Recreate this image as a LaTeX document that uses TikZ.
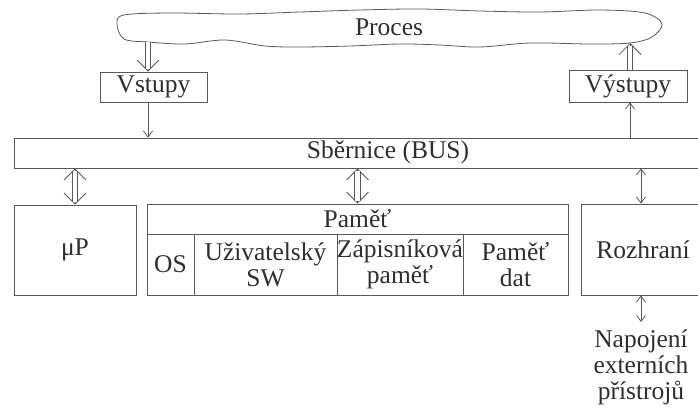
\documentclass[tikz,border=0pt]{standalone}
\usepackage{fontspec}
\setmainfont{Liberation Serif}
\usetikzlibrary{arrows.meta}
\definecolor{lc}{gray}{0.35}
\definecolor{tc}{gray}{0.18}
\begin{document}
\begin{tikzpicture}[x=1pt,y=-1pt,
  every node/.style={font=\fontsize{25.5pt}{26pt}\selectfont, text=tc},
  box/.style={draw=lc, line width=0.8pt, inner sep=0pt},
  lbl/.style={inner sep=0pt, align=center},
  conn/.style={draw=lc, line width=0.8pt},
  stip/.tip={Straight Barb[length=6pt,width=9pt,line width=0.8pt]},
  dtip/.tip={Straight Barb[length=11pt,width=22pt,line width=0.8pt]},
  sarrow/.style={conn, -stip},
  sboth/.style={conn, stip-stip},
  % a double arrow = open head on a single line, covered by a double shaft
  dhead/.style={conn, -dtip},
  dheads/.style={conn, dtip-dtip},
  dshaft/.style={conn, double=white, double distance=4.5pt},
  dend/.style={shorten >=2.6pt},
  dends/.style={shorten >=2.6pt, shorten <=2.6pt}
]
\useasboundingbox (0,0) rectangle (698,409);
\clip (0,0) rectangle (698,409);

% process cloud
\draw[conn] plot[smooth cycle, tension=0.55] coordinates {
  (117,24) (124,15) (170,13) (240,14) (300,12) (360,10) (420,9) (480,11)
  (540,12) (600,10) (645,13) (662,24) (652,37) (630,43) (590,44) (530,43)
  (480,47) (440,45) (400,44) (350,46) (300,47) (265,46) (225,40) (185,44)
  (148,42) (124,39)};
\node[lbl] (proc) at (389,27) {Proces};
\coordinate (cloudL) at (148,42);
\coordinate (cloudR) at (630,43);

% inputs and outputs
\node[box, minimum width=107pt, minimum height=30pt] (vst) at (153.5,87) {Vstupy};
\node[box, minimum width=118pt, minimum height=32pt] (vyst) at (628,86) {Výstupy};

% bus
\node[box, minimum width=691pt, minimum height=30pt] (bus) at (359.5,153) {};
\node[lbl] (busl) at (388,152) {Sběrnice (BUS)};

% lower blocks
\node[box, minimum width=122pt, minimum height=90pt] (mp) at (75,250) {μP};
\node[box, minimum width=421pt, minimum height=91pt] (pam) at (357.5,249.5) {};
\node[box, minimum width=421pt, minimum height=30pt] (pamh) at (357.5,219) {Paměť};
\node[box, lbl, minimum width=47pt, minimum height=61pt] (os) at (170.5,264.5) {OS};
\node[box, lbl, minimum width=143pt, minimum height=61pt] (usw) at (265.5,264.5) {Uživatelský\\SW};
\node[box, lbl, minimum width=126pt, minimum height=61pt] (zap) at (400,264.5) {Zápisníková\\paměť};
\node[box, lbl, minimum width=105pt, minimum height=61pt] (dat) at (515.5,264.5) {Paměť\\dat};
\node[box, minimum width=124pt, minimum height=91pt] (rozh) at (643,249.5) {Rozhraní};
\node[lbl] (ext) at (641,367) {Napojení\\externích\\přístrojů};
\coordinate (extTop) at (641,322);

% single-line connections
\draw[sarrow] (cloudL |- vst.south) -- (cloudL |- bus.north);
\draw[sarrow] (cloudR |- bus.north) -- (cloudR |- vyst.south);
\draw[sboth] (ext |- bus.south) -- (ext |- rozh.north);
\draw[sboth] (ext |- rozh.south) -- (extTop);

% double-line connections
\draw[dhead] (cloudL) -- (cloudL |- vst.north);
\draw[dshaft, dend] (cloudL) -- (cloudL |- vst.north);
\draw[dhead] (cloudR |- vyst.north) -- (cloudR);
\draw[dshaft, dend] (cloudR |- vyst.north) -- (cloudR);
\draw[dheads] (mp.north) -- (mp.north |- bus.south);
\draw[dshaft, dends] (mp.north) -- (mp.north |- bus.south);
\draw[dheads] (pam.north) -- (pam.north |- bus.south);
\draw[dshaft, dends] (pam.north) -- (pam.north |- bus.south);
\end{tikzpicture}
\end{document}
